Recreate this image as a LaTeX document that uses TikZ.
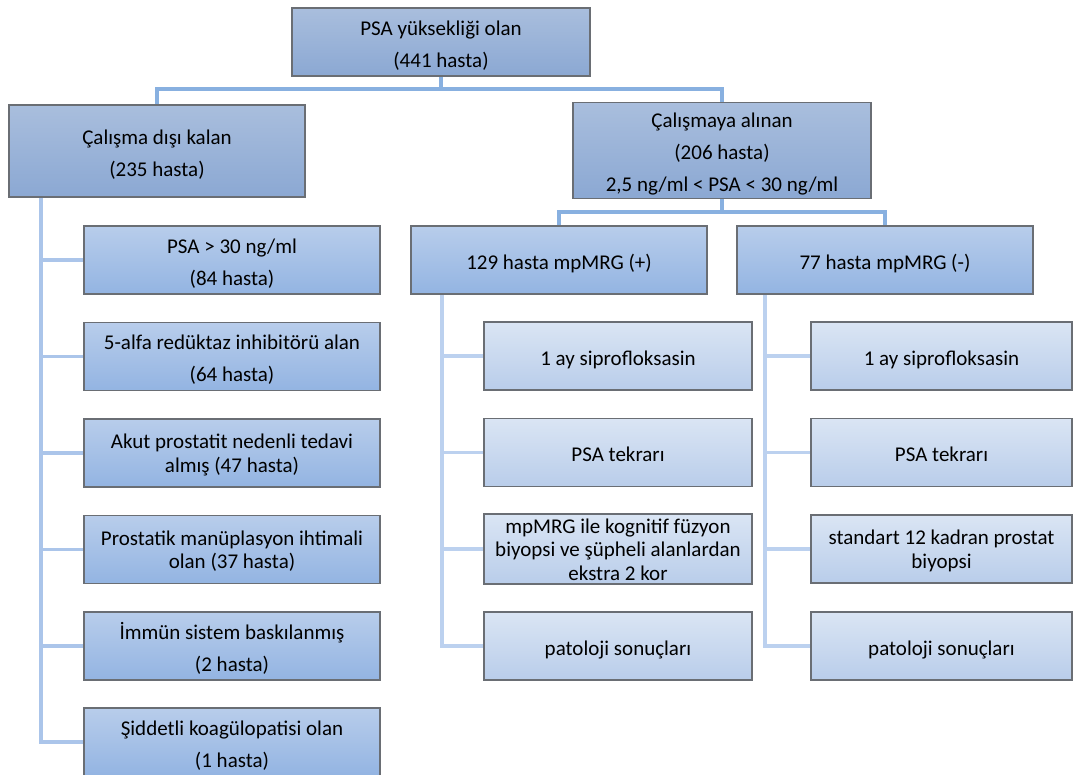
\documentclass[tikz,border=0pt]{standalone}
\usepackage{fontspec}
\setmainfont{Carlito}
\usetikzlibrary{backgrounds}
\definecolor{bordergray}{HTML}{6A6E74}
\definecolor{cAtop}{HTML}{A9BEDD}
\definecolor{cAbot}{HTML}{8BA8D3}
\definecolor{cBtop}{HTML}{B8CDEB}
\definecolor{cBbot}{HTML}{93B4E2}
\definecolor{cCtop}{HTML}{DAE5F4}
\definecolor{cCbot}{HTML}{B9CDEA}
\definecolor{lineA}{HTML}{88B0E0}
\definecolor{lineB}{HTML}{ABC5EA}
\definecolor{lineC}{HTML}{BCD1EF}
\newcommand{\boxtxt}[1]{\raisebox{-3pt}[\height][\depth]{\begin{tabular}{@{}c@{}}#1\end{tabular}}}
\begin{document}
\begin{tikzpicture}[x=1pt,y=-1pt,
  boxbase/.style={draw=bordergray, line width=1.6pt, inner sep=0pt,
    text=black, font=\fontsize{21}{32}\selectfont},
  tight/.style={font=\fontsize{21}{23.5}\selectfont},
  lvA/.style={boxbase, top color=cAtop, bottom color=cAbot},
  lvB/.style={boxbase, top color=cBtop, bottom color=cBbot, minimum width=296, minimum height=68},
  lvC/.style={boxbase, top color=cCtop, bottom color=cCbot, minimum height=68},
  conA/.style={draw=lineA, line width=3.2pt},
  conB/.style={draw=lineB, line width=3.2pt},
  conC/.style={draw=lineC, line width=3.2pt}]
\useasboundingbox (0,0) rectangle (1073,774);
% level 0 and 1
\node[lvA, minimum width=298, minimum height=68] (top) at (441,42) {\boxtxt{PSA yüksekliği olan\\(441 hasta)}};
\node[lvA, minimum width=296, minimum height=92] (exc) at (157,151) {\boxtxt{Çalışma dışı kalan\\(235 hasta)}};
\node[lvA, minimum width=298, minimum height=93] (inc) at (722,150.5) {\boxtxt{Çalışmaya alınan\\(206 hasta)\\2,5 ng/ml < PSA < 30 ng/ml}};
% level 2
\node[lvB] (pos) at (559,260) {\boxtxt{129 hasta mpMRG (+)}};
\node[lvB] (neg) at (885,260) {\boxtxt{77 hasta mpMRG (-)}};
% excluded children
\node[lvB] (e1) at (232,260) {\boxtxt{PSA > 30 ng/ml\\(84 hasta)}};
\node[lvB] (e2) at (232,356.5) {\boxtxt{5-alfa redüktaz inhibitörü alan\\(64 hasta)}};
\node[lvB, tight] (e3) at (232,453) {\boxtxt{Akut prostatit nedenli tedavi\\almış (47 hasta)}};
\node[lvB, tight] (e4) at (232,549.5) {\boxtxt{Prostatik manüplasyon ihtimali\\olan (37 hasta)}};
\node[lvB] (e5) at (232,646) {\boxtxt{İmmün sistem baskılanmış\\(2 hasta)}};
\node[lvB] (e6) at (232,742) {\boxtxt{Şiddetli koagülopatisi olan\\(1 hasta)}};
% mpMRG (+) children
\node[lvC, minimum width=268] (p1) at (618,356) {\boxtxt{1 ay siprofloksasin}};
\node[lvC, minimum width=268] (p2) at (618,452.5) {\boxtxt{PSA tekrarı}};
\node[lvC, minimum width=268, tight] (p3) at (618,549) {\boxtxt{mpMRG ile kognitif füzyon\\biyopsi ve şüpheli alanlardan\\ekstra 2 kor}};
\node[lvC, minimum width=268] (p4) at (618,646) {\boxtxt{patoloji sonuçları}};
% mpMRG (-) children
\node[lvC, minimum width=261] (n1) at (941.5,356) {\boxtxt{1 ay siprofloksasin}};
\node[lvC, minimum width=261] (n2) at (941.5,452.5) {\boxtxt{PSA tekrarı}};
\node[lvC, minimum width=261, tight] (n3) at (941.5,549) {\boxtxt{standart 12 kadran prostat\\biyopsi}};
\node[lvC, minimum width=261] (n4) at (941.5,646) {\boxtxt{patoloji sonuçları}};
% spine coordinates
\coordinate (j0) at (441,89);
\coordinate (j1) at (722,212);
\coordinate (ls) at (41,0);
\coordinate (ms) at (442,0);
\coordinate (rs) at (765,0);
\begin{pgfonlayer}{background}
\draw[conA] (top.south) -- (j0);
\draw[conA] (exc.north) -- (exc.north |- j0) -- (inc.north |- j0) -- (inc.north);
\draw[conA] (inc.south) -- (j1);
\draw[conA] (pos.north) -- (pos.north |- j1) -- (neg.north |- j1) -- (neg.north);
% left spine
\draw[conB] (exc.south -| ls) |- (e6.west);
\foreach \n in {e1,e2,e3,e4,e5} \draw[conB] (\n.west -| ls) -- (\n.west);
% middle spine
\draw[conC] (pos.south -| ms) |- (p4.west);
\foreach \n in {p1,p2,p3} \draw[conC] (\n.west -| ms) -- (\n.west);
% right spine
\draw[conC] (neg.south -| rs) |- (n4.west);
\foreach \n in {n1,n2,n3} \draw[conC] (\n.west -| rs) -- (\n.west);
\end{pgfonlayer}
\end{tikzpicture}
\end{document}
